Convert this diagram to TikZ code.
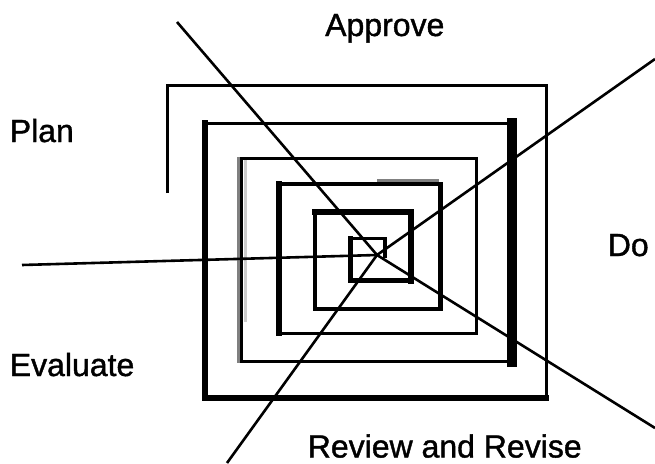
\documentclass[tikz,border=0pt]{standalone}
\usepackage{fontspec}
\setmainfont{Liberation Sans}
\newfontfamily\lblfont{Liberation Sans}[FakeBold=1.2]
\begin{document}
\begin{tikzpicture}[x=1pt,y=-1pt,
  lbl/.style={anchor=base west,inner sep=0pt,font=\lblfont\fontsize{32}{36}\selectfont},
  seg/.style={line width=#1,line cap=rect},
  ray/.style={line width=2.6pt,line cap=butt}]
\useasboundingbox (0,0) rectangle (655,463);
% spiral corners
\coordinate (p0) at (167,193);
\coordinate (p1) at (167,85);
\coordinate (p2) at (546.3,85);
\coordinate (p3) at (546.3,397.8);
\coordinate (p4) at (205,397.8);
\coordinate (p5) at (205,123.3);
\coordinate (p6) at (511.7,123.3);
\coordinate (p7) at (511.7,361.7);
\coordinate (p8) at (241.7,361.7);
\coordinate (p9) at (241.7,158.3);
\coordinate (p10) at (476.7,158.3);
\coordinate (p11) at (476.7,333.3);
\coordinate (p12) at (279,333.3);
\coordinate (p13) at (279,184);
\coordinate (p14) at (440.5,184);
\coordinate (p15) at (440.5,309);
\coordinate (p16) at (315,309);
\coordinate (p17) at (315,212);
\coordinate (p18) at (411,212);
\coordinate (p19) at (411,280.5);
\coordinate (p20) at (350.5,280.5);
\coordinate (p21) at (350.5,238.5);
\coordinate (p22) at (385,238.5);
\coordinate (p23) at (385,258);
% gray shadows
\draw[line width=3pt,color=black!50] (238,157) -- (238,363);
\draw[line width=3pt,color=black!20] (245,160) -- (245,322);
\draw[line width=3.3pt,color=black!50] (377,181) -- (439,181);
% spiral
\draw[seg=3pt,line cap=butt] (p0) -- (p1);
\draw[seg=3pt] (p1) -- (p2);
\draw[seg=3pt] (p2) -- (p3);
\draw[seg=5.7pt] (p3) -- (p4);
\draw[seg=6.6pt] (p4) -- (p5);
\draw[seg=3.3pt] (p5) -- (p6);
\draw[seg=10pt] (p6) -- (p7);
\draw[seg=3.3pt] (p7) -- (p8);
\draw[seg=3pt] (p8) -- (p9);
\draw[seg=3.3pt] (p9) -- (p10);
\draw[seg=3.3pt] (p10) -- (p11);
\draw[seg=3.3pt] (p11) -- (p12);
\draw[seg=5.7pt] (p12) -- (p13);
\draw[seg=4pt] (p13) -- (p14);
\draw[seg=4.3pt] (p14) -- (p15);
\draw[seg=3.3pt] (p15) -- (p16);
\draw[seg=3.3pt] (p16) -- (p17);
\draw[seg=5.7pt] (p17) -- (p18);
\draw[seg=6pt] (p18) -- (p19);
\draw[seg=4.3pt] (p19) -- (p20);
\draw[seg=5pt] (p20) -- (p21);
\draw[seg=3.3pt] (p21) -- (p22);
\draw[seg=3.3pt,line cap=butt] (p22) -- (p23);
% rays
\coordinate (c) at (377,255);
\coordinate (eul) at (177,22);
\coordinate (eur) at (655,59);
\coordinate (elr) at (655,428);
\coordinate (ell) at (227,463);
\coordinate (el) at (22,265);
\draw[ray] (eul) -- (c);
\draw[ray] (eur) -- (c);
\draw[ray] (elr) -- (c);
\draw[ray] (ell) -- (c);
\draw[ray] (el) -- (c);
% labels
\node[lbl] (approve) at (325,36) {Approve};
\node[lbl] (plan) at (9.6,142) {Plan};
\node[lbl] (evaluate) at (9.6,376) {Evaluate};
\node[lbl] (do) at (607.6,256) {Do};
\node[lbl] (review) at (307.6,457.5) {Review and Revise};
\end{tikzpicture}
\end{document}
